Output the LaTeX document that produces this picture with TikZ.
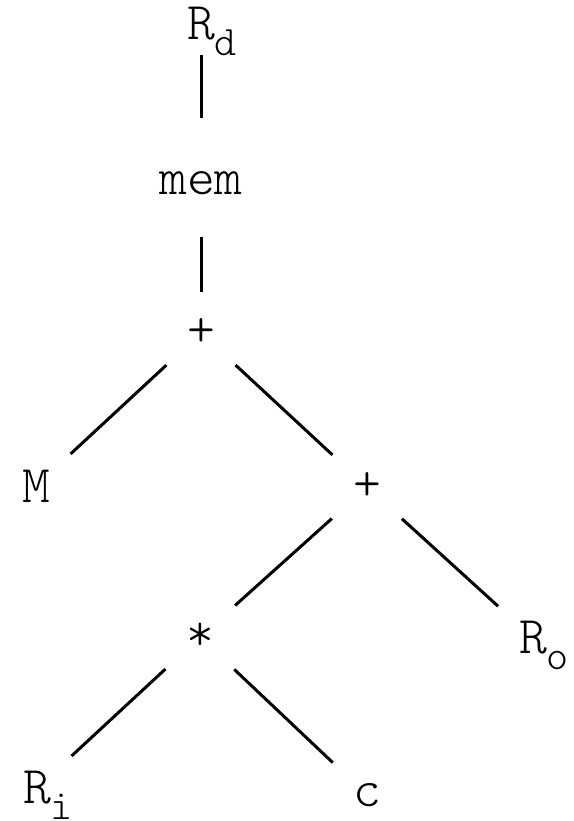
\documentclass[tikz,border=0pt]{standalone}
\usepackage{fontspec}
\setmonofont{Latin Modern Mono Light}
\usepackage{tikz}

\tikzset{
    tnode/.style={circle, minimum size=94pt, inner sep=0pt,
        font=\fontsize{53}{53}\selectfont\ttfamily},
    edge/.style={line width=3pt}
}
\newcommand{\sub}[1]{\rlap{\smash{\raisebox{-16pt}{\fontsize{42}{42}\selectfont\ttfamily #1}}}}

\begin{document}
\begin{tikzpicture}[x=1pt, y=1pt]
    \useasboundingbox (0,0) rectangle (573,821);

    \node[tnode] (rd)    at (201,797) {R\sub{d}};
    \node[tnode] (mem)   at (201,638) {mem};
    \node[tnode] (plusa) at (201,488) {+};
    \node[tnode] (m)     at (36,335)  {M};
    \node[tnode] (plusb) at (367,334) {+};
    \node[tnode] (star)  at (200,184) {*};
    \node[tnode] (ro)    at (533,183) {R\sub{o}};
    \node[tnode] (ri)    at (37,33)   {R\sub{i}};
    \node[tnode] (c)     at (367,26)  {c};

    \draw[edge, shorten <=-16pt, shorten >=18pt] (rd) -- (mem);
    \draw[edge, shorten <=7pt, shorten >=-6pt] (mem) -- (plusa);
    \draw[edge] (plusa) -- (m);
    \draw[edge] (plusa) -- (plusb);
    \draw[edge] (plusb) -- (star);
    \draw[edge] (plusb) -- (ro);
    \draw[edge] (star) -- (ri);
    \draw[edge] (star) -- (c);
\end{tikzpicture}
\end{document}
